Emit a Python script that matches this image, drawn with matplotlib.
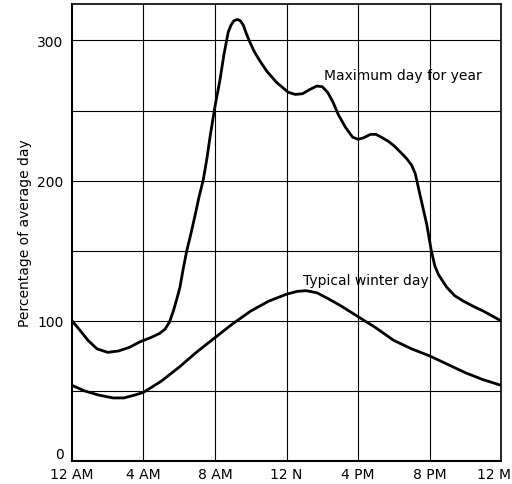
"""Daily load curves: maximum day vs typical winter day."""

import matplotlib
matplotlib.use("Agg")
import matplotlib.pyplot as plt
from matplotlib.transforms import ScaledTranslation

# hours from midnight and percentage of average day
max_hours = [0, 0.4, 0.9, 1.4, 2.0, 2.6, 3.2, 3.8, 4.4, 4.9, 5.2, 5.45, 5.67,
             5.85, 6.04, 6.22, 6.42, 6.65, 6.88, 7.1, 7.35, 7.55, 7.72, 8.0,
             8.28, 8.5, 8.74, 8.9, 9.05, 9.25, 9.42, 9.58, 9.75, 9.96, 10.2,
             10.5, 10.9, 11.45, 12.1, 12.5, 12.9, 13.3, 13.7, 14.0, 14.3,
             14.6, 14.9, 15.3, 15.7, 16.0, 16.3, 16.7, 17.0, 17.3, 17.7, 18.0,
             18.4, 18.7, 19.0, 19.2, 19.5, 19.84, 20.1, 20.3, 20.5, 20.96,
             21.4, 21.9, 22.5, 23.0, 23.5, 24]
max_values = [100, 94, 86, 80, 77.5, 78.5, 81, 85, 88, 91, 94, 99, 107,
              115, 124, 137, 150, 162, 175, 188, 201, 216, 231, 253,
              272, 290, 306, 311, 314, 315, 314, 311, 305, 298.5, 292,
              285.6, 278, 270, 263, 261.5, 262, 265, 267.5, 267, 263,
              256, 247, 238, 231, 229.5, 230.5, 233, 233, 231, 228, 225,
              220, 216, 211, 205, 188, 169, 150, 139, 133, 124,
              118, 114, 110, 107, 103.5, 100]

winter_hours = [0, 0.7, 1.5, 2.3, 2.9, 3.5, 4, 5, 6, 7, 8, 9, 10, 11, 12,
                12.6, 13.1, 13.7, 14.3, 15, 16, 17, 18, 19, 20, 21, 22, 23, 24]
winter_values = [54, 50, 47, 45, 45, 47, 49, 57, 67, 78, 88, 98, 107, 114, 119,
                 121, 121.5, 120, 116, 111, 103, 95, 86, 80, 75, 69, 63, 58, 54]

x_ticks = [0, 4, 8, 12, 16, 20, 24]
x_labels = ["12 AM", "4 AM", "8 AM", "12 N", "4 PM", "8 PM", "12 M"]
y_grid = [50, 100, 150, 200, 250, 300]
y_ticks = [0, 100, 200, 300]

fig = plt.figure(figsize=(5.12, 4.85), dpi=100)
ax = fig.add_axes([0.1406, 0.0474, 0.838, 0.9423])

for y in y_grid:
    ax.axhline(y, color="black", lw=0.8, zorder=1)
for x in x_ticks[1:-1]:
    ax.axvline(x, color="black", lw=0.8, zorder=1)

line_kw = dict(color="black", lw=2.0, zorder=3,
               solid_joinstyle="round", solid_capstyle="round")
ax.plot(max_hours, max_values, **line_kw)
ax.plot(winter_hours, winter_values, **line_kw)

ax.text(14.1, 275, "Maximum day for year", fontsize=10, va="center", ha="left")
ax.text(12.9, 129, "Typical winter day", fontsize=10, va="center", ha="left")

ax.set_xlim(0, 24)
ax.set_ylim(0, 326)
ax.set_xticks(x_ticks)
ax.set_xticklabels(x_labels)
ax.set_yticks(y_ticks)
ax.tick_params(length=0, labelsize=10)
ax.tick_params(axis="y", pad=6)
ax.tick_params(axis="x", pad=4)
ax.set_ylabel("Percentage of average day", fontsize=10, labelpad=4)

# keep the "0" clear of "12 AM" and pull "12 M" inside the figure
ax.get_yticklabels()[0].set_va("bottom")
last = ax.get_xticklabels()[-1]
last.set_transform(last.get_transform() + ScaledTranslation(-5 / 72, 0, fig.dpi_scale_trans))

for side in ["left", "bottom"]:
    ax.spines[side].set_linewidth(1.5)
for side in ["top", "right"]:
    ax.spines[side].set_linewidth(1.2)

fig.savefig("out.png", dpi=100)
